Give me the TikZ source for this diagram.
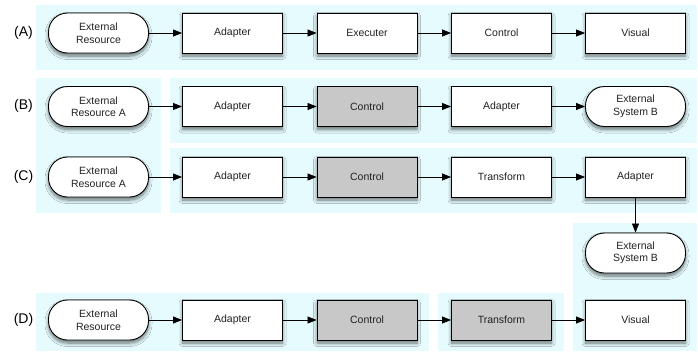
\documentclass[tikz,border=0pt]{standalone}
\usepackage{fontspec}
\setmainfont{Liberation Sans}
\usetikzlibrary{arrows.meta,shadows.blur}
\definecolor{lanebg}{HTML}{E6FBFE}
\definecolor{boxgray}{HTML}{C8C8C8}
\definecolor{labeltext}{HTML}{222222}
\tikzset{
  lane/.style={fill=lanebg, draw=none},
  stepbox/.style={draw=black, line width=0.9pt, fill=white, minimum width=100pt, minimum height=40pt,
    inner sep=0pt, align=center, text=labeltext, font=\fontsize{10.5}{12.5}\selectfont,
    blur shadow={shadow xshift=0pt, shadow yshift=-3pt, shadow blur steps=8, shadow opacity=55,
      shadow blur radius=3.5pt}},
  grayed/.style={stepbox, fill=boxgray},
  extbox/.style={stepbox, rounded corners=19pt},
  rowlabel/.style={font=\fontsize{14}{16}\selectfont},
  flow/.style={-{Triangle[length=9pt,width=7pt]}, line width=0.8pt},
}
\begin{document}
\begin{tikzpicture}[x=1pt,y=-1pt]
\useasboundingbox (0,0) rectangle (698,351);
% background lanes
\fill[lane] (36,5) rectangle (697,70);
\fill[lane] (36,78) rectangle (161,213);
\fill[lane] (170,78) rectangle (697,143);
\fill[lane] (170,148) rectangle (697,213);
\fill[lane] (573,223) rectangle (697,351);
\fill[lane] (36,293) rectangle (429,351);
\fill[lane] (438,293) rectangle (564,351);

% row labels
\node[rowlabel] (lA) at (23.5,33) {(A)};
\node[rowlabel] (lB) at (23.5,106) {(B)};
\node[rowlabel] (lC) at (23.5,177) {(C)};
\node[rowlabel] (lD) at (23.5,320) {(D)};

% row A
\node[extbox] (a1) at (98.5,33) {External\\Resource};
\node[stepbox] (a2) at (232.5,33) {Adapter};
\node[stepbox] (a3) at (367,33) {Executer};
\node[stepbox] (a4) at (501.5,33) {Control};
\node[stepbox] (a5) at (635.5,33) {Visual};
\draw[flow] (a1) -- (a2);
\draw[flow] (a2) -- (a3);
\draw[flow] (a3) -- (a4);
\draw[flow] (a4) -- (a5);

% row B
\node[extbox] (b1) at (98.5,106.5) {External\\Resource A};
\node[stepbox] (b2) at (232.5,106.5) {Adapter};
\node[grayed] (b3) at (367,106.5) {Control};
\node[stepbox] (b4) at (501.5,106.5) {Adapter};
\node[extbox] (b5) at (635.5,106.5) {External\\System B};
\draw[flow] (b1) -- (b2);
\draw[flow] (b2) -- (b3);
\draw[flow] (b3) -- (b4);
\draw[flow] (b4) -- (b5);

% row C
\node[extbox] (c1) at (98.5,177) {External\\Resource A};
\node[stepbox] (c2) at (232.5,177) {Adapter};
\node[grayed] (c3) at (367,177) {Control};
\node[stepbox] (c4) at (501.5,177) {Transform};
\node[stepbox] (c5) at (635.5,177) {Adapter};
\node[extbox] (c6) at (635.5,253) {External\\System B};
\draw[flow] (c1) -- (c2);
\draw[flow] (c2) -- (c3);
\draw[flow] (c3) -- (c4);
\draw[flow] (c4) -- (c5);
\draw[flow] (c5) -- (c6);

% row D
\node[extbox] (d1) at (98.5,320) {External\\Resource};
\node[stepbox] (d2) at (232.5,320) {Adapter};
\node[grayed] (d3) at (367,320) {Control};
\node[grayed] (d4) at (501.5,320) {Transform};
\node[stepbox] (d5) at (635.5,320) {Visual};
\draw[flow] (d1) -- (d2);
\draw[flow] (d2) -- (d3);
\draw[flow] (d3) -- (d4);
\draw[flow] (d4) -- (d5);
\end{tikzpicture}
\end{document}
